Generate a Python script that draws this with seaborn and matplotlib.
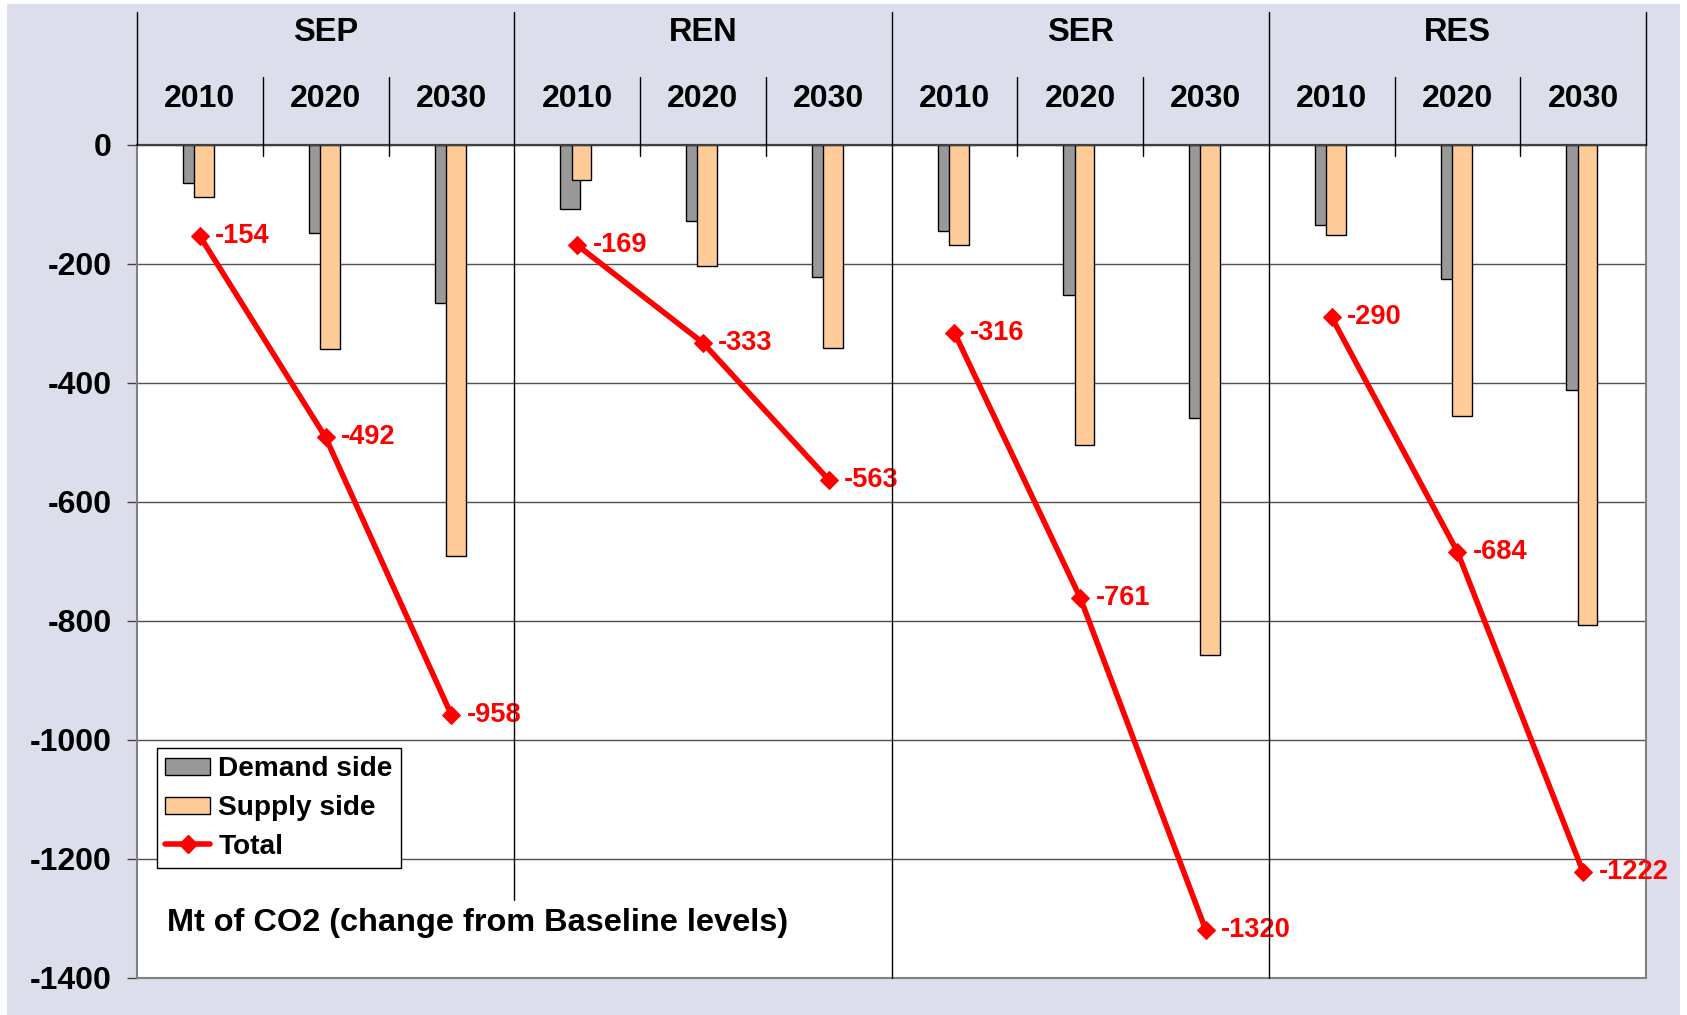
import numpy as np
import pandas as pd
import seaborn as sns
import matplotlib.pyplot as plt
from matplotlib.patches import Rectangle, Patch
from matplotlib.lines import Line2D

# ── data (Mt CO2, change from baseline) ─────────────────────────────────────
scenarios = ["SEP", "REN", "SER", "RES"]
years = ["2010", "2020", "2030"]
demand = [-65, -148, -266, -109, -129, -222, -146, -253, -459, -135, -226, -413]
supply = [-88, -343, -692, -59, -204, -341, -168, -505, -857, -152, -456, -807]
total = [-154, -492, -958, -169, -333, -563, -316, -761, -1320, -290, -684, -1222]
y_ticks = [0, -200, -400, -600, -800, -1000, -1200, -1400]

GRAY = "#999999"
PEACH = "#FFCC99"
RED = "#FF0000"
LAV = "#DCDFEB"

df = pd.DataFrame({
    "scenario": np.repeat(scenarios, len(years)),
    "year": np.tile(years, len(scenarios)),
    "demand": demand,
    "supply": supply,
    "total": total,
})
df["slot"] = np.arange(len(df)) + 0.5

sns.set_theme(style="white")
plt.rcParams["font.family"] = ["Liberation Sans", "DejaVu Sans"]
plt.rcParams["font.weight"] = "bold"
plt.rcParams["text.color"] = "black"
plt.rcParams["ytick.labelcolor"] = "black"

W, H = 1687, 1015
fig, ax = plt.subplots(figsize=(W / 100, H / 100), dpi=100)
fig.subplots_adjust(left=137 / W, right=1646 / W, bottom=(H - 978) / H, top=(H - 144.5) / H)
fig.patch.set_facecolor("white")
fig.add_artist(Rectangle((7 / W, 0), 1673 / W, 1011 / H, transform=fig.transFigure,
                         facecolor=LAV, edgecolor="none", zorder=-10))
ax.set_facecolor("white")

# ── bars: demand behind, supply in front (overlapping) ───────────────────────
sns.barplot(x=df["slot"] - 0.056, y=df["demand"], native_scale=True, width=0.156,
            color=GRAY, saturation=1, edgecolor="black", linewidth=1.0,
            errorbar=None, ax=ax, zorder=2)
sns.barplot(x=df["slot"] + 0.035, y=df["supply"], native_scale=True, width=0.156,
            color=PEACH, saturation=1, edgecolor="black", linewidth=1.0,
            errorbar=None, ax=ax, zorder=2)

# ── total line, one segment per scenario ─────────────────────────────────────
sns.lineplot(data=df, x="slot", y="total", units="scenario", estimator=None,
             color=RED, linewidth=4, marker="D", markersize=9,
             markeredgecolor=RED, legend=False, sort=False, ax=ax, zorder=4)
for x, v in zip(df["slot"], df["total"]):
    ax.annotate(f"{v}", (x, v), xytext=(11, 0), textcoords="offset points",
                color=RED, fontsize=19.6, fontweight="bold", va="center", ha="left", zorder=5)

# ── axes ─────────────────────────────────────────────────────────────────────
ax.set_xlim(0, 12)
ax.set_ylim(-1400, 0)
ax.set_xticks([])
ax.set_yticks(y_ticks)
ax.set_yticklabels([str(t) for t in y_ticks], fontsize=23, fontweight="bold", color="black")
ax.tick_params(axis="y", left=True, length=7.2, width=1, color="#404040", pad=11)
ax.set_xlabel("")
ax.set_ylabel("")
ax.yaxis.grid(True, color="#505050", linewidth=1.0)
ax.set_axisbelow(True)
for side in ["left", "bottom", "right"]:
    ax.spines[side].set_color("#808080")
    ax.spines[side].set_linewidth(1.5)
ax.spines["top"].set_color("#404040")
ax.spines["top"].set_linewidth(1.6)

# ── header with scenario / year labels and separators ────────────────────────
tr = ax.get_xaxis_transform()
sep_kw = dict(transform=tr, clip_on=False, color="black", linewidth=1.0, zorder=6)
ax.plot([0, 0], [1, 1.159], **sep_kw)
ax.plot([3, 3], [0.0936, 1.159], **sep_kw)
ax.plot([6, 6], [0, 1.159], **sep_kw)
ax.plot([9, 9], [0, 1.159], **sep_kw)
ax.plot([12, 12], [1, 1.159], **sep_kw)
for k in range(12):
    if k % 3 != 0:
        ax.plot([k, k], [0.986, 1.081], **sep_kw)

for i, s in enumerate(scenarios):
    ax.text(3 * i + 1.5, 1.134, s, transform=tr, ha="center", va="center",
            fontsize=23.5, fontweight="bold")
for x, y in zip(df["slot"], df["year"]):
    ax.text(x, 1.055, y, transform=tr, ha="center", va="center",
            fontsize=23, fontweight="bold")

# ── legend and unit note ─────────────────────────────────────────────────────
handles = [
    Patch(facecolor=GRAY, edgecolor="black", linewidth=1.0),
    Patch(facecolor=PEACH, edgecolor="black", linewidth=1.0),
    Line2D([], [], color=RED, linewidth=4, marker="D", markersize=9),
]
leg = ax.legend(handles, ["Demand side", "Supply side", "Total"], loc="upper left",
                bbox_to_anchor=(0.0133, 0.276), borderaxespad=0, frameon=True,
                fancybox=False, edgecolor="black", framealpha=1,
                prop={"size": 20.2, "weight": "bold"}, handlelength=1.58,
                handleheight=0.55, handletextpad=0.3, labelspacing=0.45, borderpad=0.3)
leg.get_frame().set_linewidth(1.0)
leg.set_zorder(7)

ax.text(0.0199, 0.066, "Mt of CO2 (change from Baseline levels)", transform=ax.transAxes,
        fontsize=23.4, fontweight="bold", va="center", ha="left")

fig.savefig("out.png", dpi=100)
